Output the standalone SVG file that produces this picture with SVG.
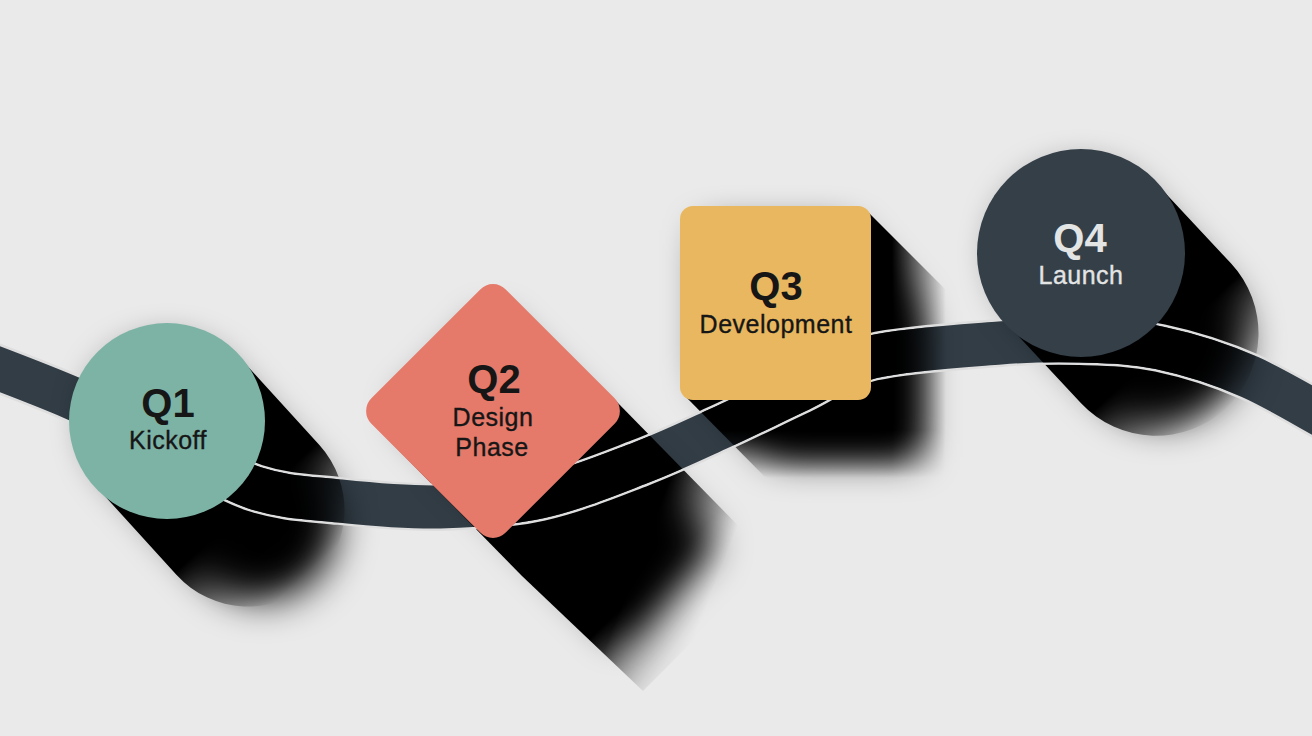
<svg xmlns="http://www.w3.org/2000/svg" width="1312" height="736" viewBox="0 0 1312 736">
<defs>
<style>
.title{font-family:"Liberation Sans",Arial,sans-serif;font-weight:700;font-size:40px;text-anchor:middle;fill:#161616}
.sub{font-family:"Liberation Sans",Arial,sans-serif;font-size:25px;letter-spacing:0.5px;text-anchor:middle;fill:#161616;stroke:#161616;stroke-width:0.35px}
.title.light{fill:#e3e4e4}
.sub.light{fill:#e3e4e4;stroke:#e3e4e4}
.ribbon-edge{fill:none;stroke:#dedede;stroke-width:48}
.ribbon-core{fill:none;stroke:#323d46;stroke-width:43}
.soft{filter:url(#soft)}
</style>
<path id="route" d="M -40,354 C -21.3,361.3 37.5,383 72,398 C 106.5,413 136.5,429 167,444 C 197.5,459 226.2,478.5 255,488 C 283.8,497.5 309.2,497.8 340,501 C 370.8,504.2 406.7,507.7 440,507 C 473.3,506.3 506.7,504.3 540,497 C 573.3,489.7 610,474.5 640,463 C 670,451.5 693.3,440.2 720,428 C 746.7,415.8 774.7,401.8 800,390 C 825.3,378.2 838.7,364.8 872,357 C 905.3,349.2 965.3,345.7 1000,343 C 1034.7,340.3 1053.3,340.2 1080,341 C 1106.7,341.8 1131.7,342 1160,348 C 1188.3,354 1218.3,363 1250,377 C 1281.7,391 1333.3,422.8 1350,432"/>
<filter id="soft" filterUnits="userSpaceOnUse" x="0" y="0" width="1312" height="736"><feGaussianBlur stdDeviation="19"/></filter>
<mask id="noEdges" maskUnits="userSpaceOnUse" x="0" y="0" width="1312" height="736">
<rect width="1312" height="736" fill="#fff"/>
<use href="#route" fill="none" stroke="#000" stroke-width="48"/>
<use href="#route" fill="none" stroke="#fff" stroke-width="43"/>
</mask>
<linearGradient id="mg2" gradientUnits="userSpaceOnUse" x1="493" y1="411" x2="717" y2="639.5"><stop offset="0" stop-color="#fff"/><stop offset="0.72" stop-color="#fff"/><stop offset="1" stop-color="#000"/></linearGradient>
<mask id="mQ2" maskUnits="userSpaceOnUse" x="0" y="0" width="1312" height="736"><rect width="1312" height="736" fill="url(#mg2)"/></mask>
<linearGradient id="my3" gradientUnits="userSpaceOnUse" x1="0" y1="430" x2="0" y2="478"><stop offset="0" stop-color="#fff"/><stop offset="1" stop-color="#000"/></linearGradient>
<mask id="mQ3" maskUnits="userSpaceOnUse" x="0" y="0" width="1312" height="736"><rect width="1312" height="736" fill="url(#my3)"/></mask>
<linearGradient id="g1" gradientUnits="userSpaceOnUse" x1="167" y1="421" x2="335" y2="606"><stop offset="0" stop-color="#000"/><stop offset="0.47" stop-color="#000"/><stop offset="0.83" stop-color="#000" stop-opacity="0"/></linearGradient>
<linearGradient id="g2" gradientUnits="userSpaceOnUse" x1="493" y1="411" x2="773.5" y2="518.4"><stop offset="0" stop-color="#000"/><stop offset="0.63" stop-color="#000"/><stop offset="0.9" stop-color="#000" stop-opacity="0"/></linearGradient>
<linearGradient id="g3" gradientUnits="userSpaceOnUse" x1="892" y1="0" x2="946" y2="0"><stop offset="0" stop-color="#000"/><stop offset="1" stop-color="#000" stop-opacity="0"/></linearGradient>
<linearGradient id="g4" gradientUnits="userSpaceOnUse" x1="1081" y1="253" x2="1258.6" y2="442.8"><stop offset="0" stop-color="#000"/><stop offset="0.477" stop-color="#000"/><stop offset="0.823" stop-color="#000" stop-opacity="0"/></linearGradient>
</defs>
<rect width="1312" height="736" fill="#ebeaea"/>
<g id="connectors">
<use href="#route" class="ribbon-edge"/>
<use href="#route" class="ribbon-core"/>
</g>
<g id="node-q1">
<g mask="url(#noEdges)">
<line class="soft" x1="167" y1="421" x2="262.6" y2="526" stroke="#000" stroke-width="146" stroke-linecap="round"/>
<line x1="167" y1="421" x2="248" y2="510" stroke="url(#g1)" stroke-width="193" stroke-linecap="round"/>
</g>
<circle cx="167" cy="421" r="98" fill="#7cb3a5"/>
<text class="title" x="168" y="417">Q1</text>
<text class="sub" x="168" y="449">Kickoff</text>
</g>
<g id="node-q2">
<g mask="url(#noEdges)">
<polygon class="soft" points="493,319 585,411 715,545 623,637 531,545 401,411" fill="#000"/>
<polygon mask="url(#mQ2)" points="614,399 764,552 770,564 643,691 522,576 372,423" fill="url(#g2)"/>
</g>
<rect x="398" y="316" width="190" height="190" rx="18" fill="#e5796a" transform="rotate(45 493 411)"/>
<text class="title" x="494" y="393">Q2</text>
<text class="sub" x="493" y="426">Design</text>
<text class="sub" x="492" y="456">Phase</text>
</g>
<g id="node-q3">
<g mask="url(#noEdges)">
<polygon class="soft" points="705,231 846,231 917,313 917,457 776,457 705,375" fill="#000"/>
<polygon mask="url(#mQ3)" points="866.5,210.5 946.5,290.5 951,299 951,467 938,480 773,480 764,476 684.5,395.5" fill="url(#g3)"/>
</g>
<rect x="680" y="206" width="191" height="194" rx="13" fill="#e9b75f"/>
<text class="title" x="776" y="300">Q3</text>
<text class="sub" x="776" y="333">Development</text>
</g>
<g id="node-q4">
<g mask="url(#noEdges)">
<line class="soft" x1="1081" y1="253" x2="1163.6" y2="341.3" stroke="#000" stroke-width="158" stroke-linecap="round"/>
<line x1="1081" y1="253" x2="1156" y2="333.3" stroke="url(#g4)" stroke-width="205" stroke-linecap="round"/>
</g>
<circle cx="1081" cy="253" r="104" fill="#343f48"/>
<text class="title light" x="1080" y="252">Q4</text>
<text class="sub light" x="1081" y="284">Launch</text>
</g>
</svg>
